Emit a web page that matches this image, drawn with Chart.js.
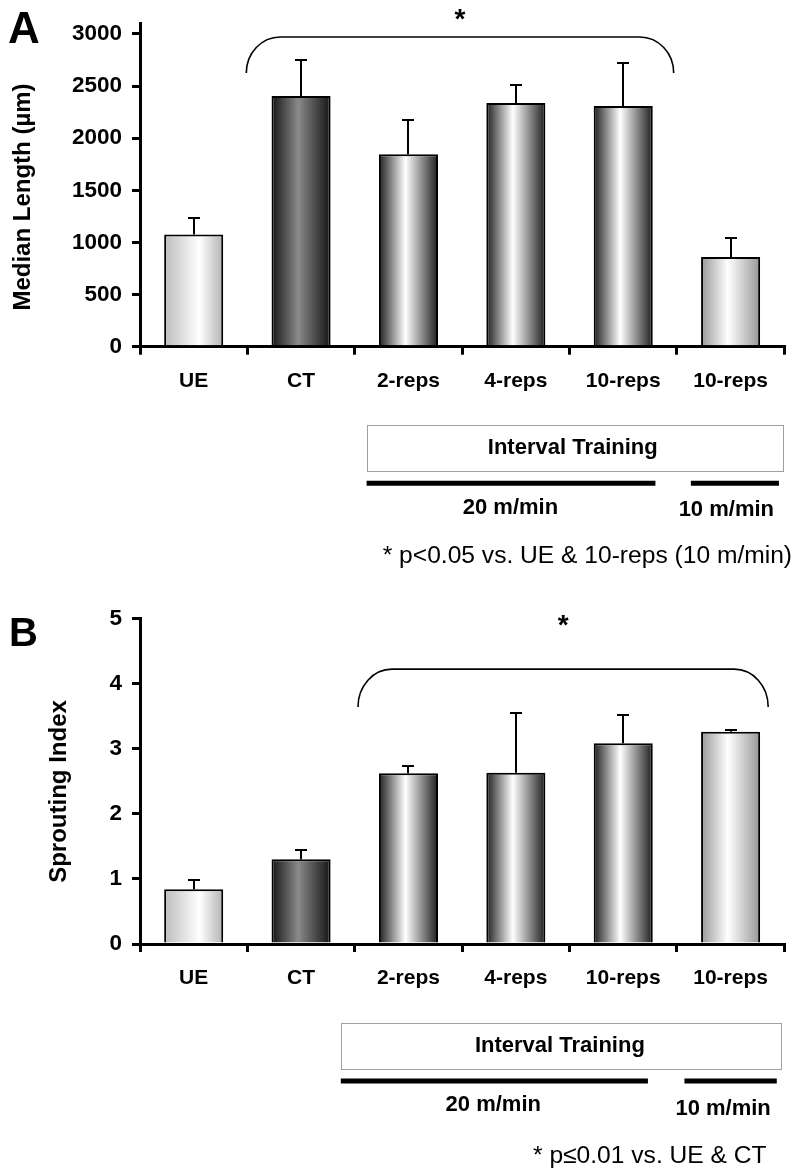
<!DOCTYPE html>
<html>
<head>
<meta charset="utf-8">
<script src="https://cdn.jsdelivr.net/npm/chart.js@4.4.1/dist/chart.umd.min.js"></script>
<style>
  html, body { margin: 0; padding: 0; background: #fff; }
  canvas { display: block; }
</style>
</head>
<body>
<canvas id="panelA" width="800" height="590"></canvas>
<canvas id="panelB" width="800" height="586"></canvas>
<script>
// groups along the x axis (last one is the 10 m/min run)
const categories = ['UE', 'CT', '2-reps', '4-reps', '10-reps', '10-reps']

// panel A - median neurite length, um (mean and SEM)
const lengthMeans = [1075, 2405, 1845, 2337, 2308, 861]
const lengthSem = [160, 344, 330, 177, 413, 184]
const lengthTicks = [0, 500, 1000, 1500, 2000, 2500, 3000]

// panel B - sprouting index (mean and SEM)
const sproutMeans = [0.84, 1.30, 2.62, 2.63, 3.08, 3.26]
const sproutSem = [0.14, 0.14, 0.11, 0.91, 0.43, 0.02]
const sproutTicks = [0, 1, 2, 3, 4, 5]

const FONT = "'Liberation Sans', Arial, Helvetica, sans-serif"

// horizontal shading for each bar (cylinder look)
const shades = [
  [[0, '#bcbcbc'], [0.6, '#ffffff'], [1, '#b2b2b2']],
  [[0, '#141414'], [0.45, '#8a8a8a'], [1, '#141414']],
  [[0, '#1e1e1e'], [0.45, '#ffffff'], [1, '#1e1e1e']],
  [[0, '#1e1e1e'], [0.45, '#ffffff'], [1, '#1e1e1e']],
  [[0, '#1e1e1e'], [0.45, '#ffffff'], [1, '#1e1e1e']],
  [[0, '#979797'], [0.45, '#ffffff'], [1, '#979797']]
]
const BAR_PCT = 0.55

function barFill(c) {
  const chart = c.chart
  const xs = chart.scales.x
  if (!xs || c.dataIndex === undefined || !xs.width) return '#ccc'
  const cx = xs.getPixelForValue(c.dataIndex)
  const half = xs.width / categories.length * BAR_PCT / 2
  const g = chart.ctx.createLinearGradient(cx - half, 0, cx + half, 0)
  shades[c.dataIndex].forEach(s => g.addColorStop(s[0], s[1]))
  return g
}

function font(size, bold) {
  return (bold ? 'bold ' : '') + size + 'px ' + FONT
}

// error bars, bracket, panel letter and the labels under the axis
function decor(p) {
  return {
    id: 'decor',
    afterDatasetsDraw(chart) {
      const {ctx, scales: {x, y}} = chart
      ctx.save()
      ctx.strokeStyle = '#000'
      ctx.lineWidth = 2
      p.means.forEach((m, i) => {
        const cx = Math.round(x.getPixelForValue(i))
        const y0 = y.getPixelForValue(m)
        const y1 = Math.round(y.getPixelForValue(m + p.sem[i]))
        ctx.beginPath()
        ctx.moveTo(cx, y0)
        ctx.lineTo(cx, y1)
        ctx.moveTo(cx - 6, y1)
        ctx.lineTo(cx + 6, y1)
        ctx.stroke()
      })
      ctx.restore()
    },
    afterDraw(chart) {
      const {ctx, chartArea, scales: {x, y}} = chart
      ctx.save()
      ctx.fillStyle = '#000'
      ctx.strokeStyle = '#000'

      // panel letter
      ctx.font = font(p.letterSize, true)
      ctx.textAlign = 'left'
      ctx.textBaseline = 'alphabetic'
      ctx.fillText(p.letter, p.letterX, p.letterY)

      // y axis title
      ctx.save()
      ctx.translate(p.titleX, p.titleY)
      ctx.rotate(-Math.PI / 2)
      ctx.font = font(24, true)
      ctx.textAlign = 'center'
      ctx.textBaseline = 'middle'
      ctx.fillText(p.title, 0, 0)
      ctx.restore()

      // significance bracket
      const b = p.bracket
      const xl = x.getPixelForValue(b.from)
      const xr = x.getPixelForValue(b.to)
      const yl = y.getPixelForValue(b.low)
      const yh = y.getPixelForValue(b.high)
      const rx = 34
      ctx.lineWidth = 1.6
      ctx.beginPath()
      ctx.ellipse(xl + rx, yl, rx, yl - yh, 0, Math.PI, 1.5 * Math.PI)
      ctx.lineTo(xr - rx, yh)
      ctx.ellipse(xr - rx, yl, rx, yl - yh, 0, 1.5 * Math.PI, 2 * Math.PI)
      ctx.stroke()
      ctx.font = font(28, true)
      ctx.textAlign = 'center'
      ctx.textBaseline = 'middle'
      ctx.fillText('*', (xl + xr) / 2, y.getPixelForValue(b.star))

      // interval training box and speed bars
      const base = chartArea.bottom
      const bx0 = x.getPixelForValue(p.box.from)
      const bx1 = x.getPixelForValue(p.box.to)
      ctx.strokeStyle = '#a0a0a0'
      ctx.lineWidth = 1
      ctx.strokeRect(Math.round(bx0) + 0.5, Math.round(base + p.box.top) + 0.5,
        Math.round(bx1 - bx0), Math.round(p.box.bottom - p.box.top))
      ctx.font = font(22, true)
      ctx.fillText('Interval Training', x.getPixelForValue(p.box.textAt), base + (p.box.top + p.box.bottom) / 2)

      ctx.strokeStyle = '#000'
      ctx.lineWidth = 5
      p.runs.forEach(r => {
        ctx.beginPath()
        ctx.moveTo(x.getPixelForValue(r.from), base + p.runY)
        ctx.lineTo(x.getPixelForValue(r.to), base + p.runY)
        ctx.stroke()
        ctx.fillText(r.label, x.getPixelForValue(r.at), base + r.dy)
      })

      // footnote
      ctx.font = font(24.6, false)
      ctx.textAlign = 'left'
      ctx.fillText(p.note, x.getPixelForValue(p.noteAt), base + p.noteDy)
      ctx.restore()
    }
  }
}

function makeChart(id, p) {
  const tickFont = {family: FONT, size: 21, weight: 'bold'}
  return new Chart(document.getElementById(id), {
    type: 'bar',
    data: {
      labels: categories,
      datasets: [{
        data: p.means,
        backgroundColor: barFill,
        borderColor: '#000',
        borderWidth: 2,
        barPercentage: BAR_PCT,
        categoryPercentage: 1
      }]
    },
    options: {
      responsive: false,
      animation: false,
      devicePixelRatio: 1,
      layout: {padding: {top: p.padTop, right: 15.7, left: 0, bottom: 0}},
      plugins: {legend: {display: false}, tooltip: {enabled: false}},
      scales: {
        x: {
          z: 1,
          offset: true,
          grid: {offset: true, drawOnChartArea: false, tickLength: 8, color: '#000', lineWidth: 3},
          border: {color: '#000', width: 3},
          ticks: {color: '#000', padding: 14, font: tickFont, maxRotation: 0},
          afterFit: s => { s.height = p.xHeight }
        },
        y: {
          z: 1,
          min: 0,
          max: p.max,
          afterBuildTicks: s => { s.ticks = p.ticks.map(v => ({value: v})) },
          grid: {drawOnChartArea: false, tickLength: 8, color: '#000', lineWidth: 3},
          border: {color: '#000', width: 3},
          ticks: {color: '#000', padding: 10, font: {family: FONT, size: 22.5, weight: 'bold'}, callback: v => String(v)},
          afterFit: s => { s.width = 140 }
        }
      }
    },
    plugins: [decor(p)]
  })
}

makeChart('panelA', {
  means: lengthMeans, sem: lengthSem, ticks: lengthTicks, max: 3100,
  padTop: 20.7, xHeight: 243.3,
  letter: 'A', letterSize: 44, letterX: 8, letterY: 43,
  title: 'Median Length (µm)', titleX: 23, titleY: 197,
  bracket: {from: 0.49, to: 4.47, low: 2626, high: 2971, star: 3135},
  box: {from: 1.61, to: 5.48, top: 78.3, bottom: 124.3, textAt: 3.53},
  runY: 136.6,
  runs: [
    {from: 1.61, to: 4.30, label: '20 m/min', at: 2.95, dy: 161.3},
    {from: 4.63, to: 5.45, label: '10 m/min', at: 4.96, dy: 163.3}
  ],
  note: '* p<0.05 vs. UE & 10-reps (10 m/min)', noteAt: 1.76, noteDy: 210
})

makeChart('panelB', {
  means: sproutMeans, sem: sproutSem, ticks: sproutTicks, max: 5,
  padTop: 28.3, xHeight: 232,
  letter: 'B', letterSize: 40, letterX: 9, letterY: 56,
  title: 'Sprouting Index', titleX: 59, titleY: 201.5,
  bracket: {from: 1.53, to: 5.35, low: 3.64, high: 4.22, star: 4.87},
  box: {from: 1.37, to: 5.47, top: 79.3, bottom: 125.3, textAt: 3.41},
  runY: 137,
  runs: [
    {from: 1.37, to: 4.23, label: '20 m/min', at: 2.79, dy: 161},
    {from: 4.57, to: 5.43, label: '10 m/min', at: 4.93, dy: 165}
  ],
  note: '* p\u22640.01 vs. UE & CT', noteAt: 3.16, noteDy: 212.7
})
</script>
</body>
</html>
